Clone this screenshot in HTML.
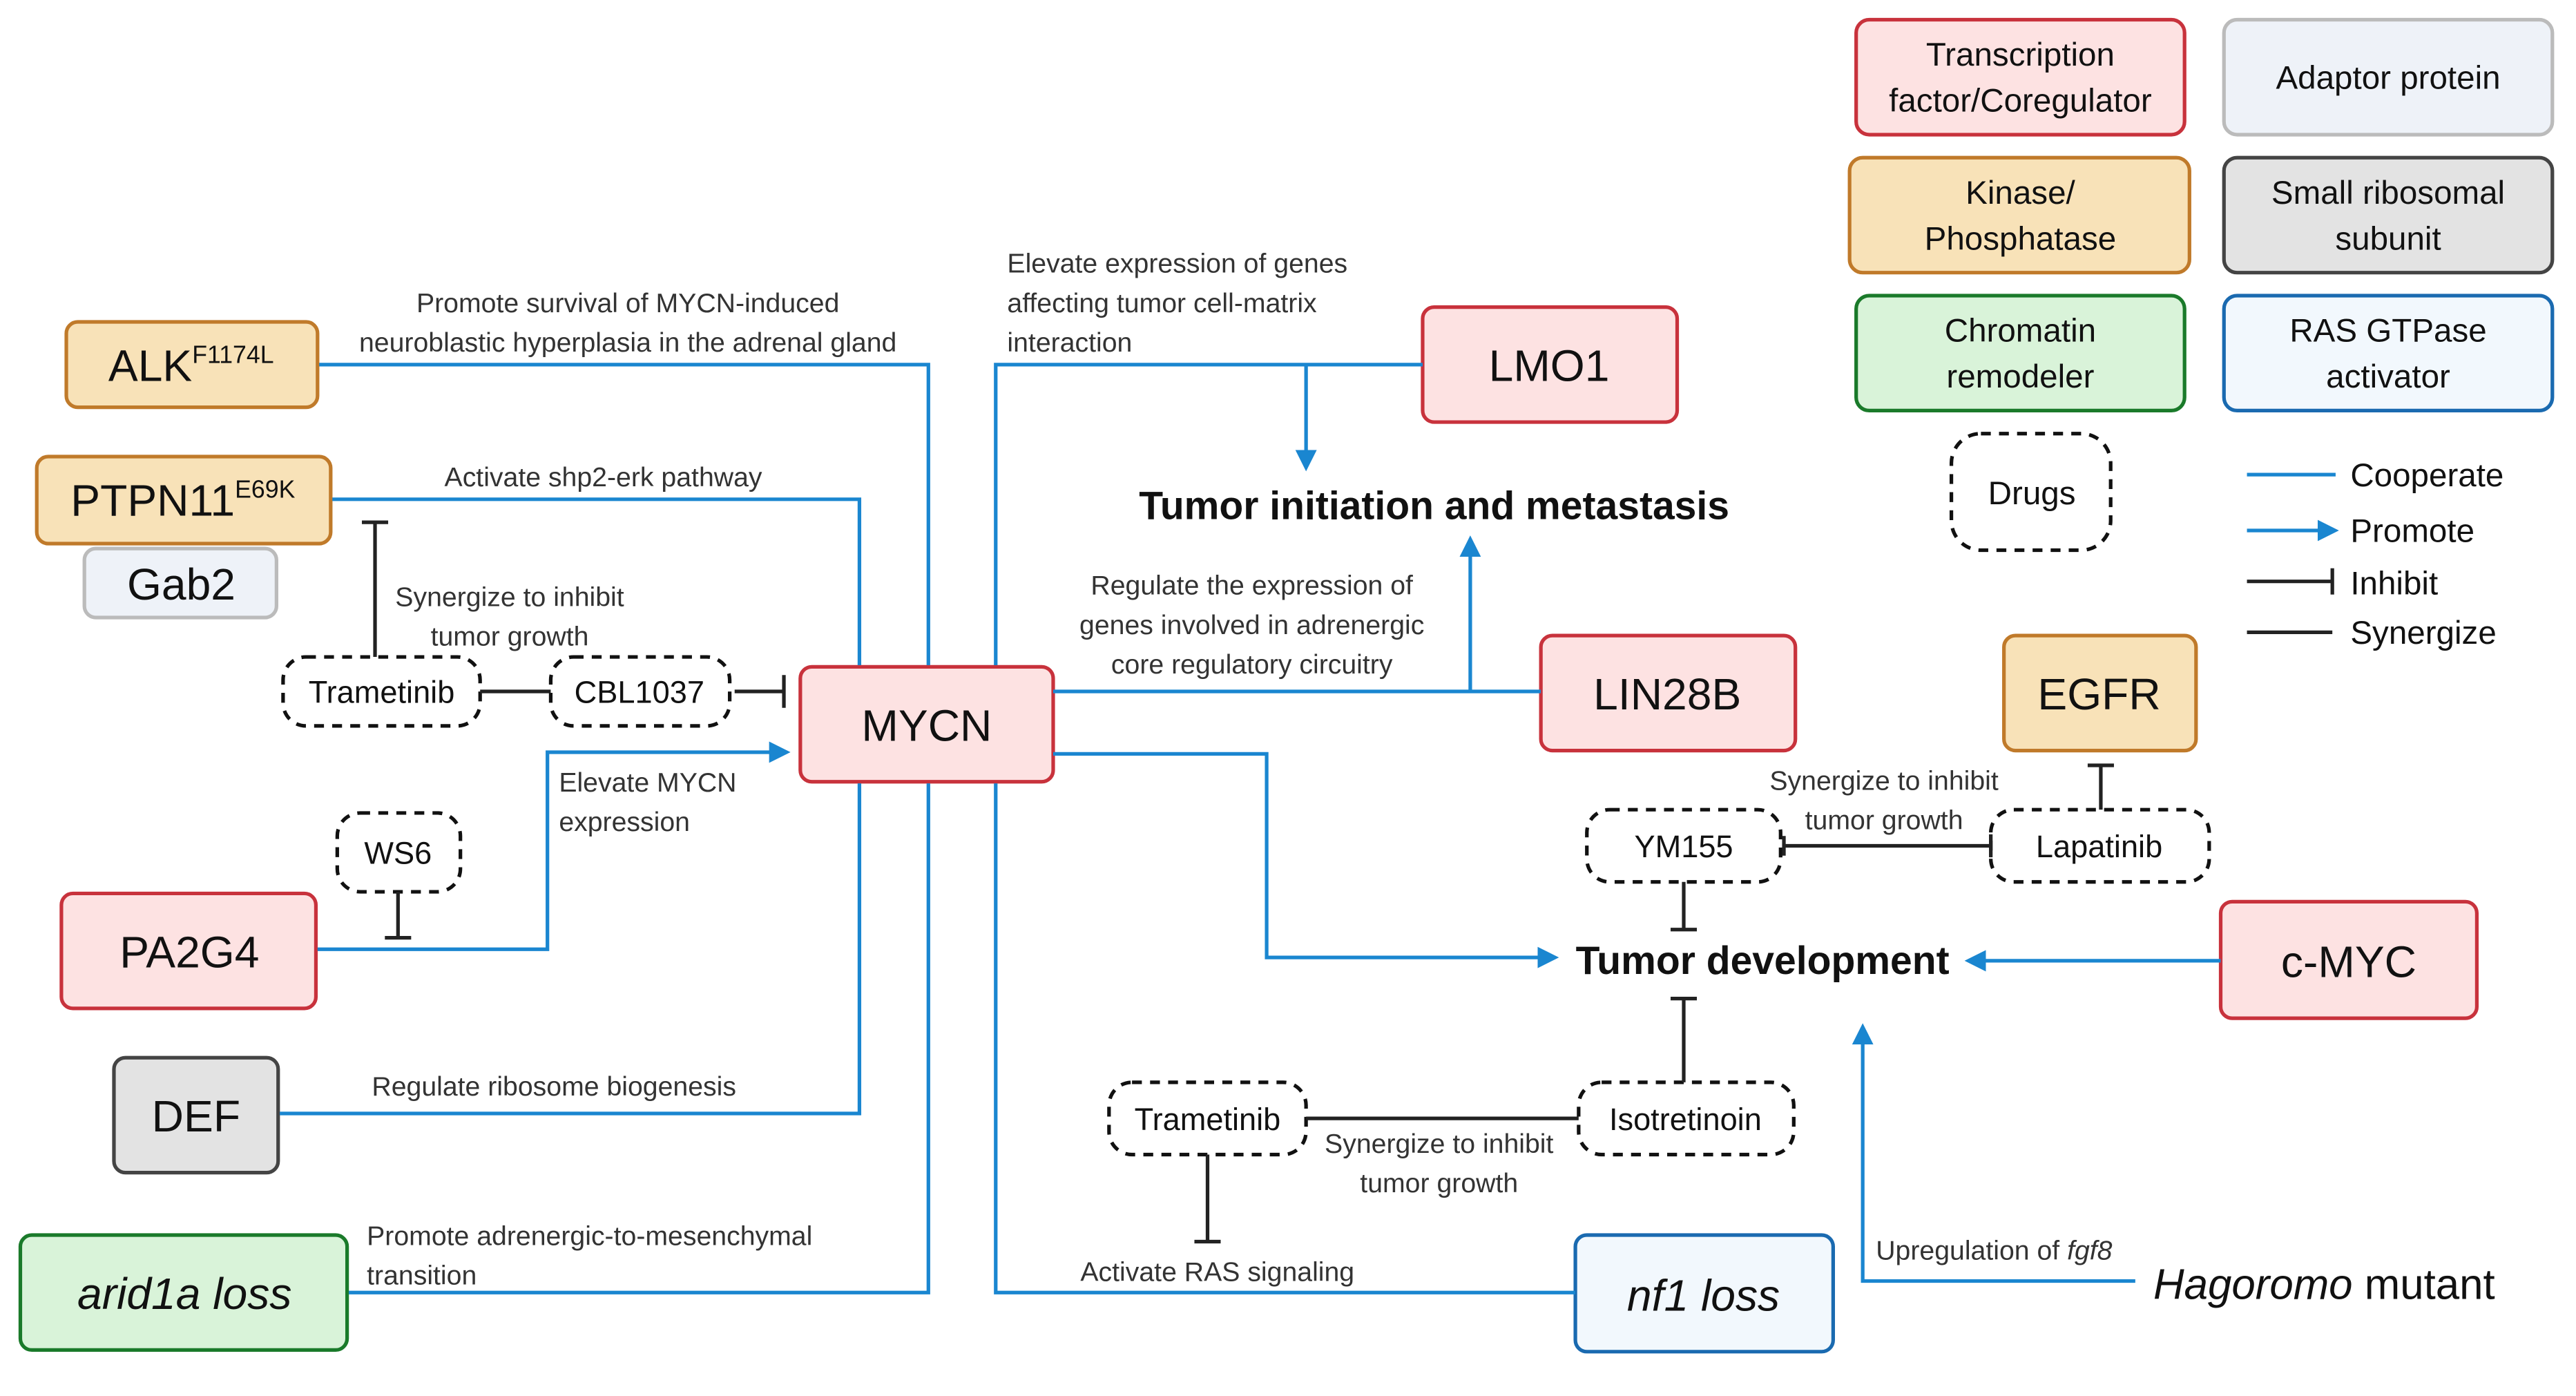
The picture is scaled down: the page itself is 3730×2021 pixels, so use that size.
<!DOCTYPE html>
<html><head><meta charset="utf-8"><style>
html,body{margin:0;padding:0;background:#fff;}
svg{display:block;}
text{font-family:"Liberation Sans",sans-serif;}
</style></head><body>
<svg width="3730" height="2021" viewBox="0 0 1568 850" xmlns="http://www.w3.org/2000/svg">
<defs>
<marker id="ab" markerWidth="13" markerHeight="13" refX="10" refY="6.5" orient="auto" markerUnits="userSpaceOnUse"><path d="M0,0 L13,6.5 L0,13 Z" fill="#1a86d0"/></marker>
</defs>
<rect width="1568" height="850" fill="#fff"/>
<g fill="none" stroke-width="2.2">
<rect x="1130" y="12" width="200" height="70" rx="8" fill="#fde2e2" stroke="#c8323c"/>
<rect x="1354" y="12" width="200" height="70" rx="8" fill="#eef2f8" stroke="#bbbbbb"/>
<rect x="1126" y="96" width="207" height="70" rx="8" fill="#f8e2b8" stroke="#c07a2a"/>
<rect x="1354" y="96" width="200" height="70" rx="8" fill="#e3e3e3" stroke="#444"/>
<rect x="1130" y="180" width="200" height="70" rx="8" fill="#d9f3d9" stroke="#1a7a2a"/>
<rect x="1354" y="180" width="200" height="70" rx="8" fill="#f2f8fd" stroke="#1a6ab0"/>
<rect x="1188" y="264" width="97" height="71" rx="18" fill="#fff" stroke="#111" stroke-dasharray="6,5"/>
<rect x="40" y="196" width="153" height="52" rx="7" fill="#f8e2b8" stroke="#c07a2a"/>
<rect x="22" y="278" width="179" height="53" rx="7" fill="#f8e2b8" stroke="#c07a2a"/>
<rect x="51" y="334" width="117" height="42" rx="7" fill="#eef2f8" stroke="#bbbbbb"/>
<rect x="487" y="406" width="154" height="70" rx="7" fill="#fde2e2" stroke="#c8323c"/>
<rect x="37" y="544" width="155" height="70" rx="7" fill="#fde2e2" stroke="#c8323c"/>
<rect x="69" y="644" width="100" height="70" rx="7" fill="#e3e3e3" stroke="#444"/>
<rect x="12" y="752" width="199" height="70" rx="7" fill="#d9f3d9" stroke="#1a7a2a"/>
<rect x="866" y="187" width="155" height="70" rx="7" fill="#fde2e2" stroke="#c8323c"/>
<rect x="938" y="387" width="155" height="70" rx="7" fill="#fde2e2" stroke="#c8323c"/>
<rect x="1220" y="387" width="117" height="70" rx="7" fill="#f8e2b8" stroke="#c07a2a"/>
<rect x="1352" y="549" width="156" height="71" rx="7" fill="#fde2e2" stroke="#c8323c"/>
<rect x="959" y="752" width="157" height="71" rx="7" fill="#f2f8fd" stroke="#1a6ab0"/>
<g stroke="#111" stroke-dasharray="6,5" fill="#fff">
<rect x="172" y="400" width="120" height="42" rx="14"/>
<rect x="335" y="400" width="109" height="42" rx="14"/>
<rect x="205" y="495" width="75" height="48" rx="14"/>
<rect x="966" y="493" width="118" height="44" rx="14"/>
<rect x="1212" y="493" width="133" height="44" rx="14"/>
<rect x="675" y="659" width="120" height="44" rx="14"/>
<rect x="961" y="659" width="131" height="44" rx="14"/>
</g>
</g>
<g fill="none" stroke="#1a86d0" stroke-width="2.2">
<polyline points="194,222 565,222 565,405"/>
<polyline points="202,304 523,304 523,405"/>
<polyline points="606,405 606,222 866,222"/>
<line x1="795" y1="222" x2="795" y2="284" marker-end="url(#ab)"/>
<line x1="641" y1="421" x2="938" y2="421"/>
<line x1="895" y1="421" x2="895" y2="329" marker-end="url(#ab)"/>
<polyline points="641,459 771,459 771,583 946,583" marker-end="url(#ab)"/>
<line x1="1352" y1="585" x2="1199" y2="585" marker-end="url(#ab)"/>
<polyline points="193,578 333,578 333,458 478,458" marker-end="url(#ab)"/>
<polyline points="170,678 523,678 523,477"/>
<polyline points="212,787 565,787 565,477"/>
<polyline points="959,787 606,787 606,477"/>
<polyline points="1300,780 1134,780 1134,626" marker-end="url(#ab)"/>
<line x1="1368" y1="289" x2="1422" y2="289"/>
<line x1="1368" y1="323" x2="1421" y2="323" marker-end="url(#ab)"/>
</g>
<g fill="none" stroke="#222" stroke-width="2.2">
<line x1="228" y1="318" x2="228" y2="400"/><line x1="220" y1="318" x2="236" y2="318"/>
<line x1="292" y1="421" x2="335" y2="421"/>
<line x1="447" y1="421" x2="477" y2="421"/><line x1="477" y1="411" x2="477" y2="431"/>
<line x1="242" y1="543" x2="242" y2="571"/><line x1="234" y1="571" x2="250" y2="571"/>
<line x1="1279" y1="493" x2="1279" y2="466"/><line x1="1271" y1="466" x2="1287" y2="466"/>
<line x1="1085" y1="515" x2="1212" y2="515"/><line x1="1212" y1="508" x2="1212" y2="522"/><line x1="1086" y1="509" x2="1086" y2="521"/>
<line x1="1025" y1="537" x2="1025" y2="566"/><line x1="1017" y1="566" x2="1033" y2="566"/>
<line x1="1025" y1="659" x2="1025" y2="608"/><line x1="1017" y1="608" x2="1033" y2="608"/>
<line x1="795" y1="681" x2="961" y2="681"/>
<line x1="735" y1="703" x2="735" y2="756"/><line x1="727" y1="756" x2="743" y2="756"/>
<line x1="1368" y1="354" x2="1420" y2="354"/><line x1="1420" y1="346" x2="1420" y2="362"/>
<line x1="1368" y1="385" x2="1420" y2="385"/>
</g>
<g fill="#111" font-size="20" text-anchor="middle">
<text x="1230" y="40">Transcription</text>
<text x="1230" y="68">factor/Coregulator</text>
<text x="1454" y="54">Adaptor protein</text>
<text x="1230" y="124">Kinase/</text>
<text x="1230" y="152">Phosphatase</text>
<text x="1454" y="124">Small ribosomal</text>
<text x="1454" y="152">subunit</text>
<text x="1230" y="208">Chromatin</text>
<text x="1230" y="236">remodeler</text>
<text x="1454" y="208">RAS GTPase</text>
<text x="1454" y="236">activator</text>
<text x="1237" y="307">Drugs</text>
</g>
<g fill="#111" font-size="20">
<text x="1431" y="296">Cooperate</text>
<text x="1431" y="330">Promote</text>
<text x="1431" y="362">Inhibit</text>
<text x="1431" y="392">Synergize</text>
</g>
<g fill="#111" font-size="27" text-anchor="middle">
<text x="116" y="232">ALK<tspan font-size="15" dy="-11">F1174L</tspan></text>
<text x="111" y="314">PTPN11<tspan font-size="15" dy="-11">E69K</tspan></text>
<text x="110" y="365">Gab2</text>
<text x="564" y="451">MYCN</text>
<text x="115" y="589">PA2G4</text>
<text x="119" y="689">DEF</text>
<text x="112" y="797" font-style="italic">arid1a loss</text>
<text x="943" y="232">LMO1</text>
<text x="1015" y="432">LIN28B</text>
<text x="1278" y="432">EGFR</text>
<text x="1430" y="595">c-MYC</text>
<text x="1037" y="798" font-style="italic">nf1 loss</text>
</g>
<g fill="#111" font-size="19" text-anchor="middle">
<text x="232" y="428">Trametinib</text>
<text x="389" y="428">CBL1037</text>
<text x="242" y="526">WS6</text>
<text x="1025" y="522">YM155</text>
<text x="1278" y="522">Lapatinib</text>
<text x="735" y="688">Trametinib</text>
<text x="1026" y="688">Isotretinoin</text>
</g>
<g fill="#111" font-size="24" font-weight="bold" text-anchor="middle">
<text x="873" y="316">Tumor initiation and metastasis</text>
<text x="1073" y="593">Tumor development</text>
</g>
<g fill="#333" font-size="16.5" text-anchor="middle">
<text x="382" y="190">Promote survival of MYCN-induced</text>
<text x="382" y="214">neuroblastic hyperplasia in the adrenal gland</text>
<text x="367" y="296">Activate shp2-erk pathway</text>
<text x="310" y="369">Synergize to inhibit</text>
<text x="310" y="393">tumor growth</text>
<text x="337" y="667">Regulate ribosome biogenesis</text>
<text x="762" y="362">Regulate the expression of</text>
<text x="762" y="386">genes involved in adrenergic</text>
<text x="762" y="410">core regulatory circuitry</text>
<text x="1147" y="481">Synergize to inhibit</text>
<text x="1147" y="505">tumor growth</text>
<text x="876" y="702">Synergize to inhibit</text>
<text x="876" y="726">tumor growth</text>
<text x="741" y="780">Activate RAS signaling</text>
</g>
<g fill="#333" font-size="16.5">
<text x="613" y="166">Elevate expression of genes</text>
<text x="613" y="190">affecting tumor cell-matrix</text>
<text x="613" y="214">interaction</text>
<text x="340" y="482">Elevate MYCN</text>
<text x="340" y="506">expression</text>
<text x="223" y="758">Promote adrenergic-to-mesenchymal</text>
<text x="223" y="782">transition</text>
<text x="1142" y="767">Upregulation of <tspan font-style="italic">fgf8</tspan></text>
</g>
<text x="1311" y="791" fill="#111" font-size="26"><tspan font-style="italic">Hagoromo</tspan> mutant</text>
</svg>
</body></html>
